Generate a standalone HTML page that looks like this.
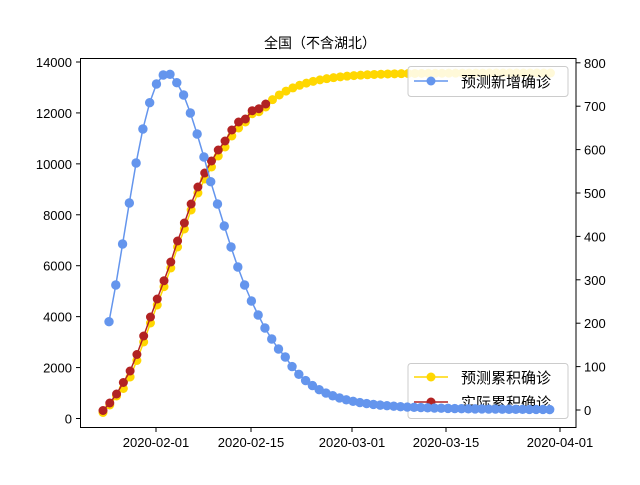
<!DOCTYPE html>
<html><head><meta charset="utf-8"><style>
body{margin:0;background:#fff}
text{font-family:"Liberation Sans","Noto Sans CJK SC",sans-serif;font-size:13px;fill:#000}
.cjk{font-family:"Noto Sans CJK SC","Liberation Sans",sans-serif}
</style></head><body>
<svg id="s" width="640" height="480" xmlns="http://www.w3.org/2000/svg">
<rect width="640" height="480" fill="#fff"/>
<text x="320" y="48" text-anchor="middle" class="cjk" style="font-size:14px">全国（不含湖北）</text>
<g id="axes" stroke="#000" stroke-width="1" fill="none">
<rect x="80.5" y="58.5" width="495.5" height="369"/>
</g>
<g id="ticks"></g>
<g id="data"></g>
<g id="leg"></g>
</svg>
<script>
const NS="http://www.w3.org/2000/svg";
function el(p,t,a,txt){const e=document.createElementNS(NS,t);for(const k in a)e.setAttribute(k,a[k]);if(txt!==undefined)e.textContent=txt;p.appendChild(e);return e;}
const T=document.getElementById('ticks'),D=document.getElementById('data'),L=document.getElementById('leg');
for(let i=0;i<=7;i++){const y=418.5-i*50.93;el(T,'line',{x1:76,x2:80.5,y1:y,y2:y,stroke:'#000'});el(T,'text',{x:72,y:y+5,'text-anchor':'end'},String(i*2000));}
for(let i=0;i<=8;i++){const y=410-i*43.4;el(T,'line',{x1:576,x2:580.5,y1:y,y2:y,stroke:'#000'});el(T,'text',{x:584,y:y+5},String(i*100));}
const xd=[[156,'2020-02-01'],[251,'2020-02-15'],[352,'2020-03-01'],[446,'2020-03-15'],[560,'2020-04-01']];
xd.forEach(([x,t])=>{el(T,'line',{x1:x,x2:x,y1:427.5,y2:432,stroke:'#000'});el(T,'text',{x:x,y:447,'text-anchor':'middle'},t);});
const dx=6.78;
const red=[410.5,403,394,382.5,371,354.5,336,317,299,280.7,262,241,223,204,187,173,161,150,141,130,122,119,110.7,108.7,104];
const yel=[];
for(let i=0;i<67;i++){const x=103+i*dx;let y;
 if(i<red.length){const off=i<3?2:(i>20?3:6);y=red[i]+off;}
 else y=73+34*Math.exp(-(x-264)/35);
 yel.push([x,y]);}
const pts=a=>a.map(p=>p[0].toFixed(1)+','+p[1].toFixed(1)).join(' ');
el(D,'polyline',{points:pts(yel),fill:'none',stroke:'#FFD700','stroke-width':1.5});
yel.forEach(p=>el(D,'circle',{cx:p[0],cy:p[1],r:4.5,fill:'#FFD700'}));
const rp=red.map((y,i)=>[103+i*dx,y]);
el(D,'polyline',{points:pts(rp),fill:'none',stroke:'#B22222','stroke-width':1.5});
rp.forEach(p=>el(D,'circle',{cx:p[0],cy:p[1],r:4.5,fill:'#B22222'}));
el(L,'rect',{x:408,y:363.5,width:160,height:55,rx:3,fill:'#fff','fill-opacity':0.85,stroke:'#ccc'});
el(L,'line',{x1:414,x2:448,y1:377,y2:377,stroke:'#FFD700','stroke-width':1.5});el(L,'circle',{cx:431,cy:377,r:4.5,fill:'#FFD700'});
el(L,'text',{x:461,y:383,class:'cjk',style:'font-size:15px'},'预测累积确诊');
el(L,'line',{x1:414,x2:448,y1:402,y2:402,stroke:'#B22222','stroke-width':1.5});el(L,'circle',{cx:431,cy:402,r:4.5,fill:'#B22222'});
el(L,'text',{x:461,y:408,class:'cjk',style:'font-size:15px'},'实际累积确诊');
const bl=[321.7,285,244,203,163,129,102.7,84,75,74.3,82.7,95,113,134,157,181.7,204,226,247,267,285,301,315,328,339,349,357];
const bp=bl.map((y,i)=>[109+i*dx,y]);
for(let i=bl.length;i<66;i++){const k=i-26;const d=45*Math.pow(0.8,k)+8*Math.pow(0.93,k);bp.push([109+i*dx,410-d]);}
el(D.parentNode,'polyline',{points:pts(bp),fill:'none',stroke:'#6495ED','stroke-width':1.5});
bp.forEach(p=>el(D.parentNode,'circle',{cx:p[0],cy:p[1],r:4.7,fill:'#6495ED'}));
const G=el(D.parentNode,'g',{});
el(G,'rect',{x:408,y:66.5,width:160,height:30,rx:3,fill:'#fff','fill-opacity':0.85,stroke:'#ccc'});
el(G,'line',{x1:414,x2:448,y1:81,y2:81,stroke:'#6495ED','stroke-width':1.5});el(G,'circle',{cx:431,cy:81,r:4.5,fill:'#6495ED'});
el(G,'text',{x:461,y:87,class:'cjk',style:'font-size:15px'},'预测新增确诊');
</script>
</body></html>
